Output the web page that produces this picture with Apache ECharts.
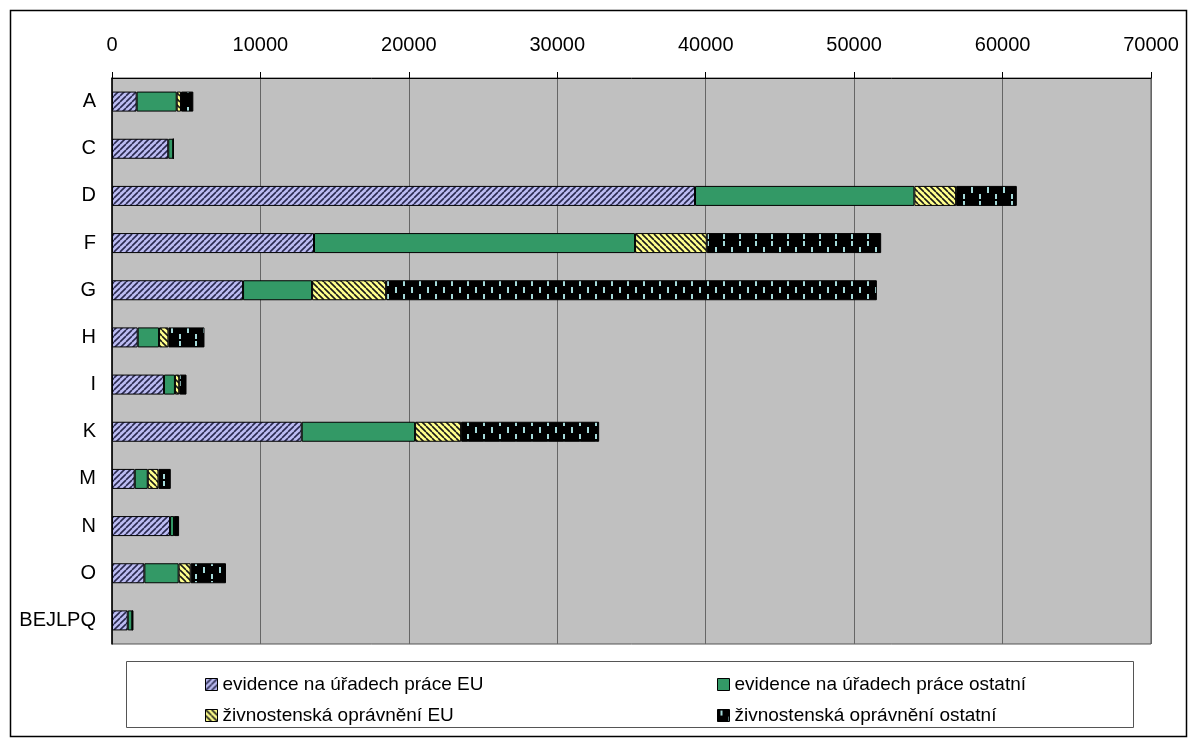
<!DOCTYPE html>
<html>
<head>
<meta charset="utf-8">
<style>
  html, body { margin: 0; padding: 0; background: #fff; }
  #chart { width: 1188px; height: 740px; }
</style>
<script src="https://cdn.jsdelivr.net/npm/echarts@6/dist/echarts.min.js"></script>
</head>
<body>
<div id="chart"></div>
<script>
// Sectors (NACE sections) shown on the vertical axis
const categories = ['A', 'C', 'D', 'F', 'G', 'H', 'I', 'K', 'M', 'N', 'O', 'BEJLPQ'];

// Foreign workers by type of registration
const euEvidence    = [1660, 3790, 39280, 13610, 8830, 1730, 3500, 12780, 1530, 3910, 2180, 1060];
const otherEvidence = [2700, 340, 14780, 21630, 4650, 1440, 740, 7640, 880, 270, 2310, 310];
const euTrade       = [290, 0, 2810, 4830, 4990, 630, 290, 3100, 720, 30, 810, 0];
const otherTrade    = [830, 0, 4090, 11750, 33060, 2430, 490, 9300, 830, 310, 2380, 60];

const seriesNames = [
  'evidence na úřadech práce EU',
  'evidence na úřadech práce ostatní',
  'živnostenská oprávnění EU',
  'živnostenská oprávnění ostatní'
];

const FONT = "'Liberation Sans', Arial, sans-serif";

// Hatched fill tiles
function hatch(bg, fg, dir, size, lw) {
  const c = document.createElement('canvas');
  c.width = size; c.height = size;
  const g = c.getContext('2d');
  g.fillStyle = bg; g.fillRect(0, 0, size, size);
  g.strokeStyle = fg; g.lineWidth = lw;
  g.beginPath();
  for (let k = -1; k <= 1; k++) {
    if (dir > 0) { // "/"
      g.moveTo(k * size, size); g.lineTo(k * size + size, 0);
    } else {       // "\"
      g.moveTo(k * size, 0); g.lineTo(k * size + size, size);
    }
  }
  g.stroke();
  return { image: c, repeat: 'repeat' };
}

// Black tile with small staggered light dashes
function dashes() {
  const w = 16, h = 20;
  const c = document.createElement('canvas');
  c.width = w; c.height = h;
  const g = c.getContext('2d');
  g.fillStyle = '#000'; g.fillRect(0, 0, w, h);
  g.fillStyle = '#A4DADA';
  g.fillRect(3, 1, 2, 5);
  g.fillRect(3, 14, 2, 5);
  g.fillRect(11, 7, 2, 6);
  return { image: c, repeat: 'repeat' };
}

const fills = [
  hatch('#BCBCF2', '#2A2A50', 1, 6, 1.6),
  '#339966',
  hatch('#FFFF8C', '#1A1A1A', -1, 6, 1.6),
  dashes()
];

const values = [euEvidence, otherEvidence, euTrade, otherTrade];

const chart = echarts.init(document.getElementById('chart'), null, { renderer: 'canvas' });

const legendBase = {
  orient: 'vertical',
  top: 670,
  itemWidth: 12, itemHeight: 12, itemGap: 12,
  itemTextGap: 6,
  icon: 'rect',
  textStyle: { fontSize: 19, color: '#000', fontFamily: FONT },
  itemStyle: { borderColor: '#000', borderWidth: 1 }
};

chart.setOption({
  animation: false,
  backgroundColor: '#fff',
  textStyle: { fontFamily: FONT },
  grid: {
    left: 112, right: 37, top: 78, bottom: 96,
    show: true,
    backgroundColor: '#C0C0C0',
    borderColor: '#555',
    borderWidth: 1
  },
  xAxis: {
    type: 'value',
    position: 'top',
    min: 0, max: 70000, interval: 10000,
    axisLine: { show: true, lineStyle: { color: '#000', width: 1 } },
    axisTick: { show: true, length: 6, lineStyle: { color: '#000' } },
    axisLabel: {
      color: '#000', fontSize: 20, fontFamily: FONT, margin: 23,
      formatter: v => String(v)
    },
    splitLine: { show: true, lineStyle: { color: '#666', width: 1 } }
  },
  yAxis: {
    type: 'category',
    inverse: true,
    data: categories,
    axisLine: { show: true, lineStyle: { color: '#000', width: 1.5 } },
    axisTick: { show: false },
    axisLabel: { color: '#000', fontSize: 20, fontFamily: FONT, margin: 16 }
  },
  legend: [
    Object.assign({ data: [seriesNames[0], seriesNames[2]], left: 200 }, legendBase),
    Object.assign({ data: [seriesNames[1], seriesNames[3]], left: 712 }, legendBase)
  ],
  graphic: [
    {
      type: 'rect', silent: true, z: -1,
      shape: { x: 10.5, y: 10.5, width: 1176, height: 726 },
      style: { fill: 'none', stroke: '#000', lineWidth: 1.5 }
    },
    {
      type: 'rect', silent: true,
      shape: { x: 126.5, y: 661.5, width: 1007, height: 66 },
      style: { fill: '#fff', stroke: '#555', lineWidth: 1 },
      z: 0
    }
  ],
  series: values.map((v, i) => ({
    name: seriesNames[i],
    type: 'bar',
    stack: 'total',
    barWidth: 20,
    data: v,
    itemStyle: { color: fills[i], borderColor: '#000', borderWidth: 1 },
    emphasis: { disabled: true }
  }))
});
</script>
</body>
</html>
